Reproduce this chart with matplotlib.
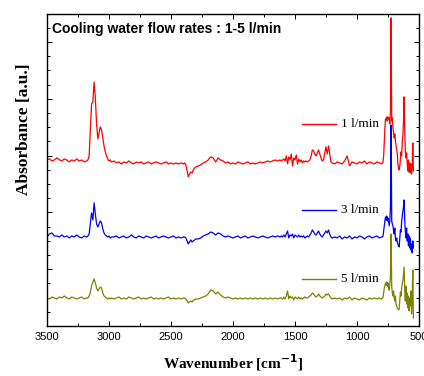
import numpy as np
import matplotlib
matplotlib.use("Agg")
import matplotlib.pyplot as plt
from matplotlib.ticker import MultipleLocator

# Wavenumber sampling positions (cm^-1)
wavenumber = np.concatenate([
    np.arange(3500, 3179, -20),   # 17
    np.arange(3170, 2979, -10),   # 20
    np.arange(2960, 2399, -20),   # 29
    np.arange(2390, 2299, -10),   # 10
    np.arange(2280, 1619, -20),   # 34
    np.arange(1610, 1199, -10),   # 42
    np.arange(1180, 799, -20),    # 20
    np.arange(795, 544, -5),      # 51
])

abs_1lpm = [
    1.66, 1.67, 1.65, 1.66, 1.68, 1.66, 1.65, 1.67, 1.66, 1.64, 1.66, 1.65, 1.67, 1.65, 1.66, 1.64, 1.65,
    1.66, 1.70, 1.98, 2.22, 2.24, 2.44, 2.28, 2.02, 1.87, 1.93, 1.99, 1.96, 1.88, 1.80, 1.74, 1.70, 1.67, 1.65, 1.66, 1.64,
    1.65, 1.63, 1.64, 1.62, 1.64, 1.63, 1.65, 1.63, 1.62, 1.64, 1.63, 1.64, 1.62, 1.63, 1.64, 1.62, 1.63, 1.64, 1.63, 1.62,
    1.63, 1.64, 1.62, 1.63, 1.62, 1.63, 1.62, 1.63, 1.62,
    1.63, 1.61, 1.55, 1.49, 1.52, 1.54, 1.53, 1.56, 1.58, 1.59,
    1.60, 1.61, 1.63, 1.64, 1.66, 1.69, 1.68, 1.64, 1.68, 1.66, 1.65, 1.63, 1.64, 1.62, 1.63, 1.62, 1.64, 1.63, 1.62, 1.63,
    1.64, 1.62, 1.63, 1.62, 1.63, 1.64, 1.63, 1.64, 1.65, 1.64, 1.65, 1.66, 1.65, 1.66,
    1.65, 1.66, 1.67, 1.65, 1.70, 1.62, 1.69, 1.66, 1.72, 1.60, 1.68, 1.66, 1.71, 1.62, 1.67, 1.64, 1.66, 1.63, 1.65, 1.64,
    1.65, 1.64, 1.65, 1.66, 1.70, 1.76, 1.75, 1.72, 1.70, 1.73, 1.76, 1.72, 1.68, 1.65, 1.66, 1.73, 1.79, 1.72, 1.80, 1.72,
    1.64, 1.63,
    1.62, 1.64, 1.63, 1.62, 1.65, 1.70, 1.60, 1.64, 1.63, 1.62, 1.64, 1.63, 1.65, 1.62, 1.64, 1.63, 1.62, 1.64, 1.63, 1.62,
    1.63, 1.64, 1.70, 1.85, 1.98, 2.07, 2.06, 2.09, 2.05, 2.09, 2.07, 2.08, 2.02, 2.15, 3.08, 2.05, 2.08, 1.98, 1.93, 1.88,
    1.92, 1.85, 1.80, 1.76, 1.72, 1.62, 1.58, 1.56, 1.60, 1.66, 1.74, 1.70, 1.84, 1.90, 2.05, 2.29, 1.95, 1.75, 1.68, 1.73,
    1.62, 1.55, 1.66, 1.54, 1.63, 1.53, 1.62, 1.52, 1.58, 1.83, 1.55,
]

abs_3lpm = [
    0.89, 0.92, 0.93, 0.90, 0.90, 0.89, 0.91, 0.89, 0.90, 0.88, 0.90, 0.89, 0.91, 0.89, 0.88, 0.90, 0.89,
    0.90, 0.92, 1.03, 1.13, 1.06, 1.23, 1.12, 1.02, 0.99, 1.02, 1.05, 1.03, 0.97, 0.93, 0.91, 0.90, 0.89, 0.90, 0.88, 0.89,
    0.89, 0.90, 0.88, 0.89, 0.90, 0.88, 0.89, 0.91, 0.89, 0.88, 0.90, 0.89, 0.88, 0.90, 0.89, 0.88, 0.89, 0.90, 0.88, 0.89,
    0.90, 0.89, 0.88, 0.89, 0.90, 0.88, 0.89, 0.88, 0.89,
    0.89, 0.88, 0.85, 0.82, 0.84, 0.86, 0.84, 0.85, 0.86, 0.87,
    0.87, 0.88, 0.90, 0.91, 0.92, 0.94, 0.93, 0.91, 0.93, 0.92, 0.90, 0.89, 0.90, 0.89, 0.88, 0.89, 0.90, 0.88, 0.89, 0.90,
    0.88, 0.89, 0.90, 0.89, 0.88, 0.89, 0.90, 0.89, 0.88, 0.89, 0.90, 0.89, 0.90, 0.89,
    0.90, 0.89, 0.91, 0.89, 0.92, 0.95, 0.88, 0.91, 0.90, 0.92, 0.88, 0.91, 0.90, 0.89, 0.91, 0.89, 0.90, 0.89, 0.90, 0.88,
    0.89, 0.90, 0.89, 0.91, 0.93, 0.96, 0.94, 0.92, 0.91, 0.93, 0.95, 0.92, 0.90, 0.89, 0.91, 0.93, 0.95, 0.93, 0.96, 0.92,
    0.89, 0.88,
    0.89, 0.88, 0.90, 0.87, 0.89, 0.88, 0.90, 0.87, 0.89, 0.88, 0.90, 0.89, 0.87, 0.89, 0.90, 0.88, 0.89, 0.90, 0.88, 0.89,
    0.89, 0.90, 0.95, 1.00, 1.05, 1.09, 1.06, 1.10, 1.05, 1.08, 1.04, 1.00, 1.05, 1.20, 2.01, 1.05, 1.02, 1.00, 0.95, 0.92,
    0.98, 0.88, 0.85, 0.88, 0.84, 0.82, 0.80, 0.79, 0.88, 0.96, 0.94, 1.04, 1.10, 1.15, 1.19, 1.26, 1.05, 0.95, 0.88, 0.98,
    0.85, 0.92, 0.80, 0.90, 0.78, 0.88, 0.76, 0.82, 0.73, 0.85, 0.78,
]

abs_5lpm = [
    0.28, 0.27, 0.29, 0.28, 0.27, 0.29, 0.28, 0.30, 0.28, 0.27, 0.29, 0.28, 0.27, 0.28, 0.29, 0.27, 0.28,
    0.28, 0.30, 0.34, 0.40, 0.44, 0.47, 0.43, 0.38, 0.35, 0.37, 0.39, 0.38, 0.33, 0.30, 0.29, 0.28, 0.27, 0.28, 0.27, 0.28,
    0.27, 0.28, 0.29, 0.27, 0.28, 0.27, 0.29, 0.28, 0.27, 0.28, 0.29, 0.27, 0.28, 0.27, 0.28, 0.29, 0.27, 0.28, 0.27, 0.28,
    0.27, 0.28, 0.29, 0.27, 0.28, 0.27, 0.28, 0.27, 0.28,
    0.28, 0.27, 0.25, 0.23, 0.24, 0.25, 0.24, 0.26, 0.26, 0.27,
    0.27, 0.28, 0.29, 0.30, 0.32, 0.36, 0.35, 0.32, 0.34, 0.31, 0.29, 0.28, 0.29, 0.28, 0.27, 0.28, 0.27, 0.28, 0.27, 0.28,
    0.27, 0.28, 0.27, 0.28, 0.27, 0.28, 0.27, 0.28, 0.27, 0.28, 0.27, 0.28, 0.27, 0.28,
    0.28, 0.27, 0.29, 0.27, 0.30, 0.35, 0.27, 0.30, 0.28, 0.29, 0.26, 0.29, 0.28, 0.27, 0.29, 0.27, 0.28, 0.27, 0.28, 0.29,
    0.28, 0.28, 0.29, 0.30, 0.31, 0.33, 0.32, 0.30, 0.29, 0.30, 0.32, 0.30, 0.29, 0.28, 0.29, 0.30, 0.32, 0.31, 0.32, 0.30,
    0.28, 0.27,
    0.28, 0.27, 0.28, 0.26, 0.28, 0.27, 0.29, 0.26, 0.28, 0.27, 0.26, 0.28, 0.27, 0.26, 0.28, 0.27, 0.28, 0.27, 0.28, 0.27,
    0.28, 0.29, 0.33, 0.38, 0.40, 0.43, 0.41, 0.44, 0.40, 0.43, 0.37, 0.36, 0.42, 0.50, 0.92, 0.40, 0.33, 0.30, 0.35, 0.28,
    0.25, 0.30, 0.22, 0.20, 0.18, 0.17, 0.16, 0.17, 0.26, 0.34, 0.30, 0.38, 0.42, 0.45, 0.52, 0.59, 0.35, 0.25, 0.40, 0.22,
    0.33, 0.18, 0.30, 0.15, 0.28, 0.20, 0.35, 0.12, 0.25, 0.56, 0.08,
]

series_labels = ["1 l/min", "3 l/min", "5 l/min"]
series_colors = ["#ff0000", "#0000ff", "#808000"]
x_ticks = [3500, 3000, 2500, 2000, 1500, 1000, 500]
title_text = "Cooling water flow rates : 1-5 l/min"

assert len(wavenumber) == len(abs_1lpm) == len(abs_3lpm) == len(abs_5lpm)

fig = plt.figure(figsize=(4.24, 3.76), dpi=100)
ax = fig.add_axes([0.1108, 0.133, 0.8774, 0.830])

series = [abs_1lpm, abs_3lpm, abs_5lpm]
for vals, col in zip(series, series_colors):
    ax.plot(wavenumber, vals, color=col, lw=0.9)

ax.set_xlim(3500, 500)
ax.set_ylim(0, 3.12)
ax.set_xticks(x_ticks)
ax.set_xticklabels([str(t) for t in x_ticks], fontsize=8, family="Liberation Sans")
ax.xaxis.set_minor_locator(MultipleLocator(250))
ax.yaxis.set_major_locator(MultipleLocator(0.568))
ax.yaxis.set_minor_locator(MultipleLocator(0.142))
ax.tick_params(which="both", direction="in", top=True, right=True, width=0.7)
ax.tick_params(which="major", length=3.5, pad=4)
ax.tick_params(which="minor", length=2)
ax.tick_params(axis="y", which="both", labelleft=False)
for s in ax.spines.values():
    s.set_linewidth(1.0)

# inline labels with line samples
label_y = [0.647, 0.372, 0.150]
for lab, col, yy in zip(series_labels, series_colors, label_y):
    ax.plot([0.685, 0.777], [yy, yy], color=col, lw=1.0, transform=ax.transAxes)
    ax.text(0.790, yy, lab, transform=ax.transAxes, fontsize=9.5,
            family="Liberation Serif", va="center", ha="left")

ax.text(0.013, 0.952, title_text, transform=ax.transAxes, fontsize=10,
        fontweight="bold", family="Liberation Sans", va="center", ha="left")

ax.set_xlabel("Wavenumber [cm$^{\\mathbf{-1}}$]", fontsize=11, fontweight="bold",
              family="Liberation Serif", labelpad=8)
ax.set_ylabel("Absorbance [a.u.]", fontsize=12.5, fontweight="bold",
              family="Liberation Serif")
ax.yaxis.set_label_coords(-0.040, 0.63)

fig.savefig("out.png", dpi=100)
